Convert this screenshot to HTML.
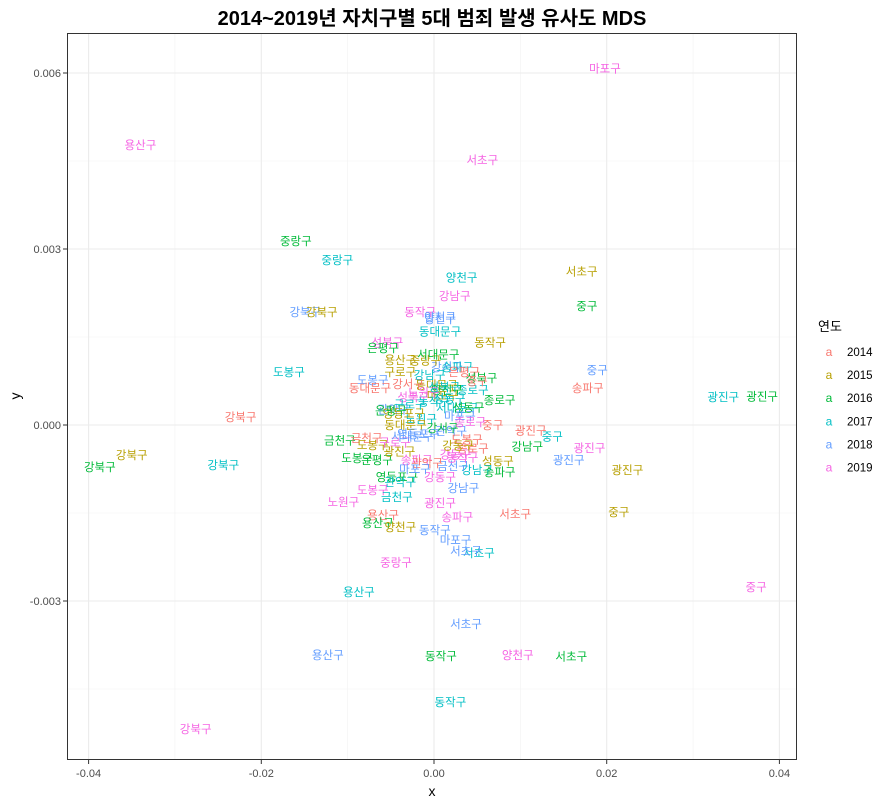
<!DOCTYPE html>
<html><head><meta charset="utf-8"><style>
body{margin:0;background:#fff;}
svg text{font-family:"Liberation Sans","Noto Sans CJK KR",sans-serif;}
</style></head><body>
<svg id="chart" width="891" height="804" xmlns="http://www.w3.org/2000/svg">
<rect width="891" height="804" fill="#fff"/>
<text x="432" y="25" text-anchor="middle" font-size="20" font-weight="bold" fill="#000">2014~2019년 자치구별 5대 범죄 발생 유사도 MDS</text>
<g id="grid"></g>
<g id="marks"></g>
<rect x="67.5" y="33.5" width="729" height="726" fill="none" stroke="#333" stroke-width="1"/>
<g id="axes"></g>
<text x="432" y="796" text-anchor="middle" font-size="14">x</text>
<text x="20" y="396" text-anchor="middle" font-size="14" transform="rotate(-90 20 396)">y</text>
<g id="legend"></g>
</svg>
<script>
const years=[2014,2015,2016,2017,2018,2019];
const colors=["#F8766D","#B79F00","#00BA38","#00BFC4","#619CFF","#F564E3"];
const xTicks=[-0.04,-0.02,0,0.02,0.04];
const xTickLabels=["-0.04","-0.02","0.00","0.02","0.04"];
const yTicks=[0.006,0.003,0,-0.003];
const yTickLabels=["0.006","0.003","0.000","-0.003"];
const labels=["마포구","용산구","서초구","중랑구","중랑구","서초구","양천구","강남구","중구","강북구","강북구","동작구","양천구","도봉구","중구","송파구","광진구","광진구","강북구","광진구","중구","강남구","광진구","광진구","광진구","강북구","강북구","강북구","노원구","서초구","중구","중랑구","서초구","서초구","마포구","동작구","중구","용산구","서초구","용산구","동작구","양천구","서초구","동작구","강북구","성동구",
"양천구","동대문구","동작구","성북구","은평구","용산구","강서구","송파구","구로구","도봉구","동대문구","동대문구","종로구","종로구","성북구","관악구","서대문구","중구","금천구","금천구","도봉구","강남구","송파구","도봉구","은평구","영등포구","관악구","강동구","강남구","도봉구","금천구","광진구","송파구","용산구","용산구","양천구",
"강서구","마포구","성동구","노원구","관악구","구로구","은평구","중랑구","성북구","동작구","서대문구","강동구","종로구","영등포구","양천구","강남구","마포구","송파구","중구","광진구","강서구","구로구","금천구","노원구","도봉구","동대문구","서대문구","성동구","영등포구","종로구","관악구","강동구","은평구","성북구","마포구","동작구"];
const labelYears=[2019,2019,2019,2016,2017,2015,2017,2019,2016,2018,2015,2019,2018,2017,2018,2014,2017,2016,2014,2014,2017,2016,2019,2018,2015,2015,2016,2017,2019,2014,2015,2019,2017,2018,2018,2018,2019,2017,2018,2018,2016,2019,2016,2017,2019,2015,
2018,2017,2015,2019,2016,2015,2018,2017,2015,2018,2014,2015,2017,2016,2019,2018,2017,2014,2016,2014,2015,2017,2016,2016,2016,2016,2017,2019,2018,2019,2017,2019,2019,2014,2016,2015,
2014,2015,2016,2017,2018,2019,2014,2015,2016,2017,2018,2019,2014,2015,2016,2017,2018,2019,2014,2015,2016,2017,2018,2019,2014,2015,2016,2017,2018,2019,2014,2015,2016,2017,2018,2019];
const xs=[0.0198,-0.0340,0.0056,-0.0160,-0.0112,0.0171,0.0032,0.0024,0.0177,-0.0149,-0.0130,-0.0016,0.0007,-0.0168,0.0189,0.0178,0.0335,0.0380,-0.0224,0.0112,0.0137,0.0108,0.0180,0.0156,0.0224,-0.0350,-0.0387,-0.0244,-0.0105,0.0094,0.0214,-0.0044,0.0052,0.0037,0.0025,0.0001,0.0373,-0.0087,0.0037,-0.0123,0.0008,0.0097,0.0159,0.0019,-0.0276,0.0074,
0.0007,0.0007,0.0065,-0.0054,-0.0059,-0.0039,0.0015,0.0027,-0.0039,-0.0071,-0.0074,0.0003,0.0045,0.0076,-0.0024,-0.0047,0.0027,0.0068,-0.0109,-0.0078,-0.0071,0.0050,0.0076,-0.0089,-0.0066,-0.0043,-0.0039,0.0007,0.0034,-0.0071,-0.0043,0.0007,0.0027,-0.0059,-0.0065,-0.0039,
-0.0030,0.0010,0.0040,-0.0015,0.0020,-0.0045,0.0035,-0.0010,0.0055,0.0000,-0.0025,0.0025,0.0045,-0.0035,0.0015,-0.0005,0.0030,-0.0020,0.0050,-0.0040,0.0010,-0.0028,0.0022,-0.0012,0.0038,-0.0033,0.0005,0.0018,-0.0018,0.0042,-0.0008,0.0028,-0.0050,0.0012,-0.0022,0.0033];
const ys=[0.00608,0.00477,0.00452,0.00314,0.00281,0.00262,0.00251,0.00220,0.00203,0.00193,0.00193,0.00193,0.00181,0.00090,0.00094,0.00063,0.00048,0.00049,0.00014,-0.00009,-0.00020,-0.00037,-0.00039,-0.00060,-0.00077,-0.00051,-0.00072,-0.00068,-0.00131,-0.00152,-0.00148,-0.00234,-0.00218,-0.00215,-0.00196,-0.00179,-0.00276,-0.00285,-0.00339,-0.00392,-0.00394,-0.00392,-0.00395,-0.00472,-0.00518,-0.00061,
0.00184,0.00159,0.00141,0.00141,0.00131,0.00111,0.00099,0.00099,0.00090,0.00077,0.00063,0.00068,0.00060,0.00043,0.00048,0.00026,0.00029,0.00000,-0.00026,-0.00022,-0.00034,-0.00077,-0.00080,-0.00056,-0.00060,-0.00089,-0.00097,-0.00089,-0.00107,-0.00111,-0.00123,-0.00133,-0.00157,-0.00153,-0.00167,-0.00174,
0.00070,0.00050,0.00030,0.00010,-0.00010,-0.00030,0.00090,0.00110,0.00080,0.00040,-0.00020,-0.00050,-0.00040,0.00020,0.00060,0.00085,0.00015,-0.00060,0.00075,-0.00045,-0.00005,0.00035,-0.00070,0.00055,-0.00025,0.00000,0.00120,0.00045,-0.00015,0.00005,-0.00065,-0.00035,0.00025,0.00065,-0.00075,-0.00055];
const NS="http://www.w3.org/2000/svg";
function sx(v){return 434+v*8635;}
function sy(v){return 425-v*58667;}
function mk(tag,attrs,parent){const e=document.createElementNS(NS,tag);for(const k in attrs)e.setAttribute(k,attrs[k]);parent.appendChild(e);return e;}
const grid=document.getElementById('grid');
mk('rect',{x:67.5,y:33.5,width:729,height:726,fill:'#fff'},grid);
[-0.03,-0.01,0.01,0.03].forEach(v=>{const l=mk('line',{x1:sx(v),x2:sx(v),y1:34,y2:760,stroke:'#F2F2F2','stroke-width':0.6},grid);

});
[0.0045,0.0015,-0.0015,-0.0045].forEach(v=>{const l=mk('line',{x1:68,x2:797,y1:sy(v),y2:sy(v),stroke:'#F2F2F2','stroke-width':0.6},grid);

});
const axes=document.getElementById('axes');
xTicks.forEach((v,i)=>{const l=mk('line',{x1:sx(v),x2:sx(v),y1:34,y2:760,stroke:'#EBEBEB','stroke-width':1.1},grid);


mk('line',{x1:sx(v),x2:sx(v),y1:760,y2:764,stroke:'#333'},axes);
const t=mk('text',{x:sx(v),y:777,'text-anchor':'middle','font-size':11,fill:'#4D4D4D'},axes);t.textContent=xTickLabels[i];

});
yTicks.forEach((v,i)=>{const l=mk('line',{x1:68,x2:797,y1:sy(v),y2:sy(v),stroke:'#EBEBEB','stroke-width':1.1},grid);


mk('line',{x1:63,x2:67,y1:sy(v),y2:sy(v),stroke:'#333'},axes);
const t=mk('text',{x:61,y:sy(v)+4,'text-anchor':'end','font-size':11,fill:'#4D4D4D'},axes);t.textContent=yTickLabels[i];

});
const marks=document.getElementById('marks');
labels.forEach((n,i)=>{const t=mk('text',{x:sx(xs[i]),y:sy(ys[i])+4,'text-anchor':'middle','font-size':11.5,fill:colors[years.indexOf(labelYears[i])]},marks);t.textContent=n;

});
const lg=document.getElementById('legend');
const lt=mk('text',{x:818,y:331,'font-size':13},lg);lt.textContent='연도';


years.forEach((y,i)=>{const cy=352+i*23.1;
const a=mk('text',{x:829,y:cy+4,'text-anchor':'middle','font-size':12,fill:colors[i]},lg);a.textContent='a';


const t=mk('text',{x:847,y:cy+4,'font-size':11.5,fill:'#000'},lg);t.textContent=y;

});
</script>
</body></html>
